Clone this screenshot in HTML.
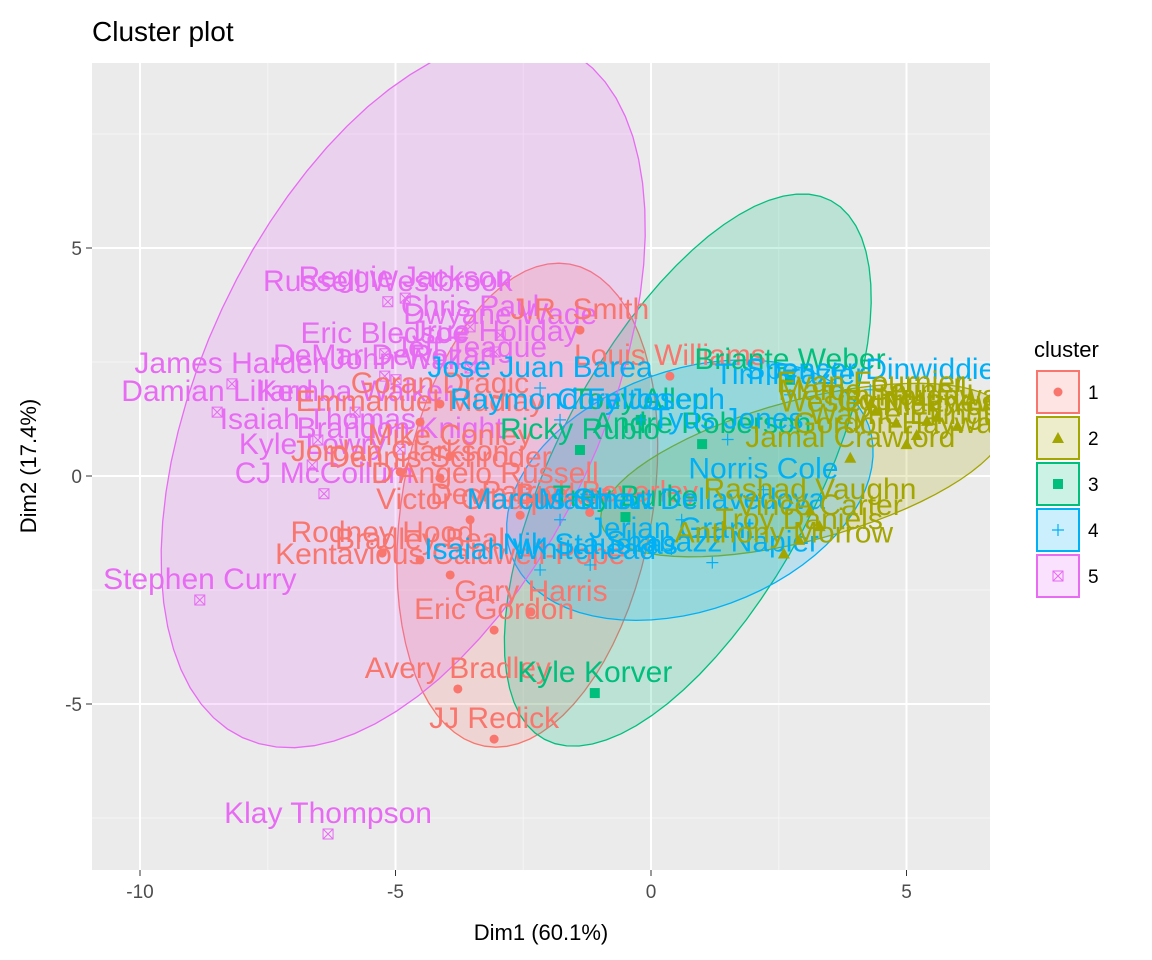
<!DOCTYPE html>
<html><head><meta charset="utf-8"><style>
body{margin:0;background:#fff;}
svg{display:block;font-family:"Liberation Sans",Arial,sans-serif;}
</style></head><body>
<svg id="chart" width="1152" height="960">
<text x="92" y="41" font-size="28" fill="#000">Cluster plot</text>
<defs><clipPath id="pc"><rect x="92" y="63" width="898" height="807"/></clipPath></defs>
<rect x="92" y="63" width="898" height="807" fill="#EBEBEB"/>
<g id="grid"></g>
<g id="ell" clip-path="url(#pc)"></g>
<g id="pts" clip-path="url(#pc)"></g>
<g id="axes"></g>
<text x="541" y="940" font-size="22" text-anchor="middle" fill="#000">Dim1 (60.1%)</text>
<text transform="translate(36,466) rotate(-90)" font-size="22" text-anchor="middle" fill="#000">Dim2 (17.4%)</text>
<g id="legend"></g>
</svg>
<script>
const clusterIds=[1,2,3,4,5];
const clusterColors=["#F8766D","#A3A500","#00BF7D","#00B0F6","#E76BF3"];
const xTicks=[-10,-5,0,5];
const yTicks=[-5,0,5];
const ellCx=[-2.42,3.0,0.72,0.76,-4.85];
const ellCy=[-0.64,0.13,0.13,-0.31,1.82];
const ellA=[4.79,4.11,5.97,3.72,7.44];
const ellB=[2.45,1.37,2.54,2.35,3.91];
const ellAng=[80,15,62,20,65];
const names=["Russell Westbrook","Reggie Jackson","Eric Bledsoe","DeMar DeRozan","John Wall","James Harden","Damian Lillard","Kemba Walker","Isaiah Thomas","Brandon Knight","Kyle Lowry","CJ McCollum","Stephen Curry","Klay Thompson","Dwyane Wade","Chris Paul","Jrue Holiday","Jeff Teague",
"J.R. Smith","Louis Williams","Goran Dragic","Emmanuel Mudiay","Mike Conley","Jordan Clarkson","Dennis Schroder","D'Angelo Russell","Victor Oladipo","Rodney Hood","Bradley Beal","Kentavious Caldwell-Pope","Gary Harris","Eric Gordon","Avery Bradley","JJ Redick","Devin Booker","Patrick Beverley",
"Kyle Korver","Briante Weber","Ricky Rubio","Tony Allen","Andre Roberson","Trey Burke",
"Jose Juan Barea","Spencer Dinwiddie","Raymond Felton","Tim Frazier","Cory Joseph","Isaiah Whitehead","Nik Stauskas","Marcus Smart","Matthew Dellavedova","Norris Cole","Tyus Jones","Jerian Grant","Shabazz Napier",
"Rashad Vaughn","Troy Daniels","Anthony Morrow","Vince Carter","Marco Belinelli","Wesley Matthews","Courtney Lee","Wayne Ellington","Tim Hardaway Jr.","Nick Young","Jamal Crawford","Evan Fournier","Gordon Hayward"];
const dimX=[-5.15,-4.81,-5.21,-5.21,-4.99,-8.2,-8.49,-5.79,-6.52,-4.91,-6.63,-6.40,-8.83,-6.32,-2.95,-3.54,-3.05,-3.54,
-1.39,0.37,-4.13,-4.52,-3.93,-4.91,-4.13,-3.25,-3.54,-5.26,-4.52,-3.93,-2.35,-3.07,-3.78,-3.07,-2.56,-1.2,
-1.10,2.72,-1.39,-0.2,1.0,-0.5,
-2.17,4.29,-1.78,2.72,-0.2,-2.17,-1.19,-1.78,0.6,2.2,1.5,0.4,1.2,
3.11,2.9,2.6,3.3,4.4,4.8,5.4,5.2,5.6,6.0,3.9,4.3,5.0];
const dimY=[3.82,3.90,2.68,2.19,2.11,2.02,1.40,1.40,0.79,0.59,0.24,-0.39,-2.72,-7.85,3.09,3.27,2.72,2.37,
3.2,2.19,1.58,1.18,0.44,0.09,-0.04,-0.39,-0.96,-1.69,-1.84,-2.17,-2.98,-3.38,-4.67,-5.77,-0.86,-0.8,
-4.76,2.11,0.57,1.23,0.7,-0.9,
1.93,1.89,1.23,1.78,1.23,-2.06,-1.95,-0.96,-0.96,-0.3,0.8,-1.6,-1.9,
-0.75,-1.4,-1.7,-1.1,1.43,1.17,1.21,0.9,1.3,1.1,0.4,1.6,0.7];
const cluster=[5,5,5,5,5,5,5,5,5,5,5,5,5,5,5,5,5,5,
1,1,1,1,1,1,1,1,1,1,1,1,1,1,1,1,1,1,
3,3,3,3,3,3,
4,4,4,4,4,4,4,4,4,4,4,4,4,
2,2,2,2,2,2,2,2,2,2,2,2,2];
const legendLabels=["1","2","3","4","5"];

const NS="http://www.w3.org/2000/svg";
const sx=v=>651+v*51.1, sy=v=>476-v*45.6;
function mk(tag,attrs,parent){const e=document.createElementNS(NS,tag);for(const k in attrs)e.setAttribute(k,attrs[k]);parent.appendChild(e);return e;}
const grid=document.getElementById('grid'),axes=document.getElementById('axes');
[-12.5,-7.5,-2.5,2.5,7.5].forEach(v=>{const x=sx(v);if(x>92&&x<990){const l=mk('line',{x1:x,x2:x,y1:63,y2:870,stroke:'#F5F5F5','stroke-width':1},grid);}});
[-7.5,-2.5,2.5,7.5].forEach(v=>{const y=sy(v);const l=mk('line',{x1:92,x2:990,y1:y,y2:y,stroke:'#F5F5F5','stroke-width':1},grid);});
xTicks.forEach(v=>{const x=sx(v);
const l=mk('line',{x1:x,x2:x,y1:63,y2:870,stroke:'#fff','stroke-width':2},grid);

mk('line',{x1:x,x2:x,y1:870,y2:876,stroke:'#333'},axes);
const t=mk('text',{x:x,y:898,'font-size':19,'text-anchor':'middle',fill:'#4D4D4D'},axes);t.textContent=v;
});
yTicks.forEach(v=>{const y=sy(v);
const l=mk('line',{x1:92,x2:990,y1:y,y2:y,stroke:'#fff','stroke-width':2},grid);

mk('line',{x1:86,x2:92,y1:y,y2:y,stroke:'#333'},axes);
const t=mk('text',{x:82,y:y+7,'font-size':19,'text-anchor':'end',fill:'#4D4D4D'},axes);t.textContent=v;
});
const ell=document.getElementById('ell');
clusterIds.forEach((c,i)=>{
 const cx=sx(ellCx[i]),cy=sy(ellCy[i]),a=ellA[i]*51.1,b=ellB[i]*51.1,th=ellAng[i]*Math.PI/180;
 let d='';for(let k=0;k<=72;k++){const t=k/72*2*Math.PI;const ex=a*Math.cos(t),ey=b*Math.sin(t);
 const x=cx+ex*Math.cos(th)-ey*Math.sin(th),y=cy-(ex*Math.sin(th)+ey*Math.cos(th));d+=(k?'L':'M')+x.toFixed(1)+','+y.toFixed(1);}
 const p=mk('path',{d:d+'Z',fill:clusterColors[i],'fill-opacity':0.2,stroke:clusterColors[i],'stroke-width':1.3},ell);
 
});
function marker(c,x,y,g,col){
 if(c===1)mk('circle',{cx:x,cy:y,r:4.5,fill:col},g);
 else if(c===2)mk('path',{d:`M${x},${y-6}L${x+6},${y+5}L${x-6},${y+5}Z`,fill:col},g);
 else if(c===3)mk('rect',{x:x-5,y:y-5,width:10,height:10,fill:col},g);
 else if(c===4)mk('path',{d:`M${x-6},${y}H${x+6}M${x},${y-6}V${y+6}`,stroke:col,'stroke-width':1.2,fill:'none'},g);
 else mk('path',{d:`M${x-5},${y-5}h10v10h-10zM${x-5},${y-5}L${x+5},${y+5}M${x+5},${y-5}L${x-5},${y+5}`,stroke:col,'stroke-width':1,fill:'none'},g);
}
const pts=document.getElementById('pts');
names.forEach((n,i)=>{const c=cluster[i],col=clusterColors[c-1],x=sx(dimX[i]),y=sy(dimY[i]);
 const g=mk('g',{},pts);
 
 
 marker(c,x,y,g,col);
 const t=mk('text',{x:x,y:y-11,'font-size':30,'text-anchor':'middle',fill:col},g);t.textContent=n;
});
const lg=document.getElementById('legend');
const lt=mk('text',{x:1034,y:357,'font-size':22,fill:'#000'},lg);lt.textContent='cluster';

clusterIds.forEach((c,i)=>{const y=371+i*46,col=clusterColors[i];
 const g=mk('g',{},lg);
 
 
 mk('rect',{x:1037,y:y,width:42,height:42,fill:col,'fill-opacity':0.2,stroke:col,'stroke-width':2},g);
 marker(c,1058,y+21,g,col);
 const t=mk('text',{x:1088,y:y+28,'font-size':19,fill:'#000'},g);t.textContent=legendLabels[i];
});
</script>
</body></html>
